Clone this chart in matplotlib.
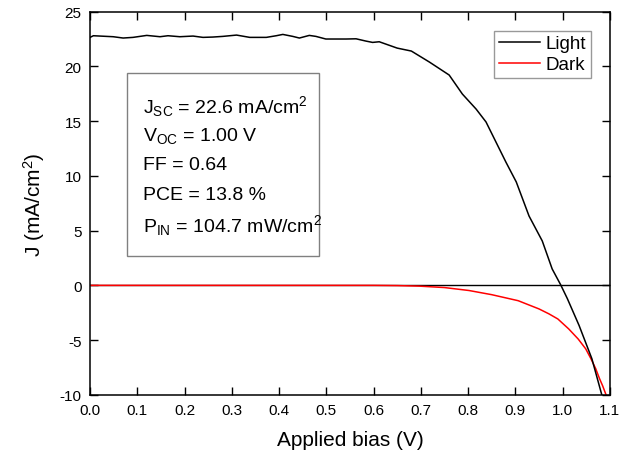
import matplotlib
matplotlib.use('Agg')
import matplotlib.pyplot as plt
from matplotlib.patches import Rectangle

plt.rcParams['font.family'] = ['Liberation Sans', 'DejaVu Sans']
plt.rcParams['mathtext.default'] = 'regular'
plt.rcParams['axes.unicode_minus'] = False

# illuminated J-V curve
v_light = [0.0, 0.007, 0.049, 0.070, 0.091, 0.120, 0.148, 0.165, 0.190, 0.218,
           0.239, 0.260, 0.281, 0.310, 0.338, 0.373, 0.394, 0.408, 0.429, 0.443,
           0.464, 0.478, 0.499, 0.542, 0.563, 0.584, 0.598, 0.612, 0.650, 0.680,
           0.718, 0.760, 0.788, 0.817, 0.838, 0.880, 0.902, 0.929, 0.957, 0.978,
           0.996, 1.010, 1.035, 1.062, 1.083]
j_light = [22.66, 22.81, 22.72, 22.60, 22.66, 22.84, 22.72, 22.81, 22.72, 22.78,
           22.66, 22.69, 22.75, 22.87, 22.66, 22.66, 22.81, 22.93, 22.75, 22.60,
           22.84, 22.75, 22.51, 22.51, 22.53, 22.32, 22.20, 22.26, 21.68, 21.41,
           20.41, 19.22, 17.48, 16.11, 14.93, 11.27, 9.45, 6.34, 4.06, 1.50,
           0.05, -1.20, -3.67, -6.70, -10.0]

# dark J-V curve
v_dark = [0.0, 0.3, 0.6, 0.65, 0.697, 0.75, 0.802, 0.85, 0.906, 0.950,
          0.971, 0.990, 1.013, 1.033, 1.049, 1.060, 1.070, 1.078, 1.085, 1.092]
j_dark = [0.0, 0.0, 0.0, -0.02, -0.07, -0.2, -0.47, -0.85, -1.4, -2.15,
          -2.6, -3.07, -3.98, -4.9, -5.8, -6.7, -7.6, -8.5, -9.2, -10.0]

params = [r'J$_{SC}$ = 22.6 mA/cm$^{2}$',
          r'V$_{OC}$ = 1.00 V',
          'FF = 0.64',
          'PCE = 13.8 %',
          r'P$_{IN}$ = 104.7 mW/cm$^{2}$']

fig = plt.figure(figsize=(6.21, 4.56), dpi=100)
ax = fig.add_axes([0.145, 0.132, 0.837, 0.840])

ax.axhline(0, color='black', lw=1.0, zorder=1)
ax.plot(v_light, j_light, color='black', lw=1.1, label='Light', zorder=3)
ax.plot(v_dark, j_dark, color='red', lw=1.1, label='Dark', zorder=2)

ax.set_xlim(0, 1.1)
ax.set_ylim(-10, 25)
ax.set_xticks([i / 10 for i in range(12)])
ax.set_xticklabels(['%.1f' % (i / 10) for i in range(12)])
ax.set_yticks(range(-10, 26, 5))
ax.tick_params(direction='in', top=True, right=True, length=6, width=1,
               labelsize=11, pad=6)
for s in ax.spines.values():
    s.set_linewidth(1.1)

ax.set_xlabel('Applied bias (V)', fontsize=15, labelpad=9)
ax.set_ylabel('J (mA/cm$^{2}$)', fontsize=15, labelpad=9)

leg = ax.legend(loc='upper right', fontsize=13.5, fancybox=False,
                handlelength=2.2, borderpad=0.25, labelspacing=0.2,
                handletextpad=0.3, borderaxespad=1.0)
leg.get_frame().set_edgecolor('#808080')
leg.get_frame().set_linewidth(1.0)

# parameter box
ax.add_patch(Rectangle((0.071, 0.362), 0.37, 0.478,
                       transform=ax.transAxes, facecolor='white',
                       edgecolor='#808080', lw=1.0, zorder=4))
for i, t in enumerate(params):
    ax.text(0.101, 0.755 - i * 0.0775, t, transform=ax.transAxes,
            fontsize=14, va='center', ha='left', zorder=5)

fig.savefig('out.png', dpi=100)
